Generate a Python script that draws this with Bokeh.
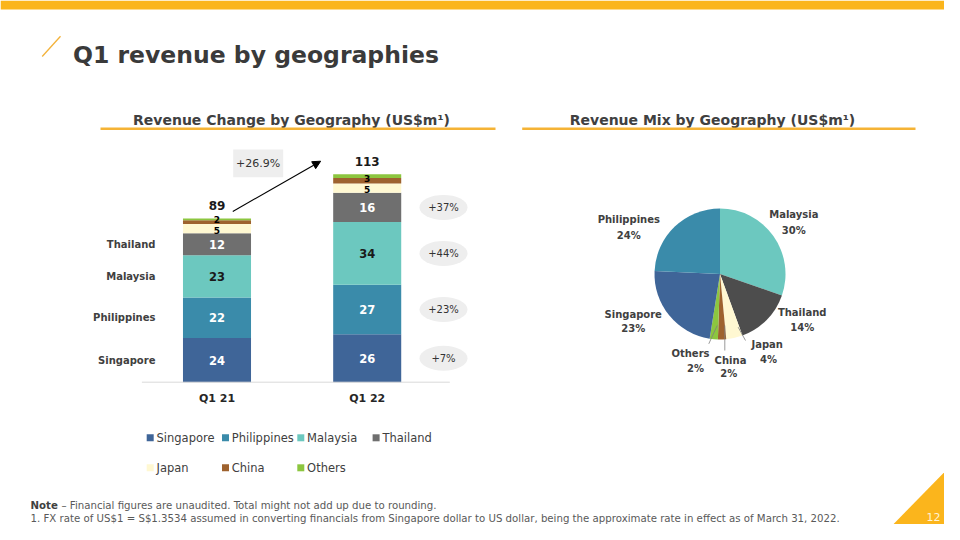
import numpy as np
from bokeh.plotting import figure
from bokeh.models import Range1d, ColumnDataSource, Arrow, NormalHead
from bokeh.core.properties import value
from bokeh.embed import file_html
from bokeh.resources import INLINE

# ---------------- data ----------------
periods = ["Q1 21", "Q1 22"]
geographies = ["Singapore", "Philippines", "Malaysia", "Thailand", "Japan", "China", "Others"]
singapore = [24, 26]
philippines = [22, 27]
malaysia = [23, 34]
thailand = [12, 16]
japan = [5, 5]
china = [2, 3]
others = [1, 2]
totals = [89, 113]
growth_labels = ["+7%", "+23%", "+44%", "+37%"]      # Singapore, Philippines, Malaysia, Thailand
total_growth_label = "+26.9%"
mix_share = [23, 24, 30, 14, 4, 2, 2]                # Q1 22 revenue mix, %

title = "Q1 revenue by geographies"
left_title = "Revenue Change by Geography (US$m\u00b9)"
right_title = "Revenue Mix by Geography (US$m\u00b9)"
note_bold = "Note"
note_rest = "\u2013 Financial figures are unaudited. Total might not add up due to rounding."
footnote = ("1. FX rate of US$1 = S$1.3534 assumed in converting financials from Singapore dollar "
            "to US dollar, being the approximate rate in effect as of March 31, 2022.")
page_no = "12"

# ---------------- styles ----------------
FONT = "DejaVu Sans"
YELLOW = "#FBB51C"
DARK = "#404040"
bar_colors = ["#3F6598", "#3A8BAA", "#6CC8BF", "#6F6F6F", "#FFF8D2", "#9E622E", "#8CC63F"]
pie_colors = ["#3F6598", "#3A8BAA", "#6CC8BF", "#4D4D4D", "#FFF8D2", "#9E622E", "#8CC63F"]
seg_label_colors = ["white", "white", "#1A1A1A", "white", "black", "black"]

W, H = 944, 524


def S(y):
    """slide pixel row -> page data y (y up)"""
    return 540 - y


p = figure(width=W, height=H, x_range=Range1d(0, W), y_range=Range1d(S(H), S(0)),
           output_backend="svg", toolbar_location=None,
           x_axis_location=None, y_axis_location=None, min_border=0)
p.outline_line_color = None
p.grid.visible = False
p.background_fill_color = "white"
p.border_fill_color = "white"


def txt(xs, ys, texts, size, color=DARK, bold=False, align="center", baseline="middle",
        **kw):
    p.text(x=list(xs), y=list(ys), text=list(texts), text_font=value(FONT),
           text_font_size=f"{size}px", text_font_style="bold" if bold else "normal",
           text_color=color, text_align=align, text_baseline=baseline, **kw)


# ---------------- slide decoration ----------------
p.quad(left=[0], right=[960], top=[S(0)], bottom=[S(9)], fill_color=YELLOW, line_color=None)
p.patch(x=[960, 960, 877], y=[S(455), S(540), S(540)], fill_color=YELLOW, line_color=None)
p.segment(x0=[41.7], y0=[S(56)], x1=[60], y1=[S(35.7)], line_color="#F3B23A", line_width=1.3)
txt([72.5], [S(54.3)], [title], 23.5, color="#3A3A3A", bold=True, align="left",
    baseline="alphabetic")

txt([291], [S(119)], [left_title], 14, color=DARK, bold=True, baseline="alphabetic")
txt([712], [S(119)], [right_title], 14, color=DARK, bold=True, baseline="alphabetic")
p.segment(x0=[100, 521.7], y0=[S(128.3)] * 2, x1=[495, 915], y1=[S(128.3)] * 2,
          line_color="#F5B335", line_width=2.6)

txt([30], [S(505)], [note_bold], 10.2, color="#404040", bold=True, align="left")
txt([61], [S(505)], [note_rest], 10.2, color="#595959", align="left")
txt([30], [S(518)], [footnote], 10.2, color="#595959", align="left")
txt([933], [S(516)], [page_no], 11, color="#FFF3D6")

# ---------------- left: stacked bars ----------------
X0, DX = 216.5, 150.2    # slide px of first period centre, px between periods
Y0, DY = 381.7, 1.84     # slide px of zero, px per US$m
p.extra_x_ranges["cat"] = Range1d((0 - X0) / DX, (W - X0) / DX)
p.extra_y_ranges["val"] = Range1d((S(H) - S(Y0)) / DY, (S(0) - S(Y0)) / DY)
R = dict(x_range_name="cat", y_range_name="val")

series = [singapore, philippines, malaysia, thailand, japan, china, others]
idx = list(range(len(periods)))
src = ColumnDataSource(dict(x=idx, **{g: s for g, s in zip(geographies, series)}))
p.vbar_stack(geographies, x="x", width=0.453, source=src, fill_color=bar_colors,
             line_color=None, **R)

vals = np.array(series, dtype=float)
tops = np.cumsum(vals, axis=0)
mids = tops - vals / 2

# axis line + category labels
p.segment(x0=[-0.5], y0=[0], x1=[1.55], y1=[0], line_color="#D9D9D9", line_width=1, **R)
txt(idx, [0, 0], periods, 11, color="#262626", bold=True, y_offset=16.6, **R)

# segment value labels
for k in range(6):
    big = k < 4
    off = 0 if big else (1.8 if k == 4 else -2.2)
    txt(idx, mids[k], [str(int(v)) for v in vals[k]], 11.5 if big else 9,
        color=seg_label_colors[k], bold=True, y_offset=off, **R)

# totals
txt(idx, totals, [str(t) for t in totals], 12, color="#1A1A1A", bold=True,
    y_offset=-12.8, **R)

# geography labels on the left of first bar
txt([-0.41] * 4, mids[:4, 0], geographies[:4], 10, color=DARK, bold=True, align="right", **R)

# growth bubbles
p.ellipse(x=[1.508] * 4, y=list(mids[:4, 1]), width=48, height=25, width_units="screen",
          height_units="screen", fill_color="#EEEEEE", line_color=None, **R)
txt([1.508] * 4, mids[:4, 1], growth_labels, 10, color="#333333", **R)

# total growth box + arrow
p.quad(left=[232.7], right=[282.7], top=[S(149)], bottom=[S(176.7)], fill_color="#EEEEEE",
       line_color=None)
txt([257.7], [S(162.8)], [total_growth_label], 11, color="#333333")
p.add_layout(Arrow(end=NormalHead(size=8, fill_color="black", line_color="black"),
                   x_start=0.105, y_start=92.8, x_end=0.69, y_end=120.1,
                   line_color="black", line_width=1.1, **R))

# legend (manual grid, 4 per row)
for i, (g, c) in enumerate(zip(geographies, bar_colors)):
    row, col = divmod(i, 4)
    p.scatter(x=[149.7 + 75.3 * col], y=[S(437.3 + 30 * row)], marker="square", size=7,
              fill_color=c, line_color=None)
    txt([156 + 75.3 * col], [S(437.3 + 30 * row)], [g], 11.5, color=DARK, align="left")

# ---------------- right: pie ----------------
share = np.array(mix_share, dtype=float)
frac = share / share.sum()
order = np.roll(np.arange(len(geographies)), -2)          # clockwise from 12 o'clock: Malaysia first
cum = np.concatenate([[0.0], np.cumsum(frac[order])])
pie_src = ColumnDataSource(dict(
    start=np.pi / 2 - 2 * np.pi * cum[1:],
    end=np.pi / 2 - 2 * np.pi * cum[:-1],
    color=[pie_colors[i] for i in order],
))
CX, CY, RAD = 719.5, S(273.5), 65.5
p.wedge(x=CX, y=CY, radius=RAD, radius_units="screen", start_angle="start", end_angle="end",
        direction="anticlock", fill_color="color", line_color=None, source=pie_src)

# label layout (slide px): name centre, pct centre
label_pos = {
    "Singapore": ((632.7, 314.0), (632.7, 328.3)),
    "Philippines": ((628.3, 219.3), (628.3, 235.0)),
    "Malaysia": ((793.3, 214.3), (793.3, 230.0)),
    "Thailand": ((801.7, 311.7), (801.7, 326.7)),
    "Japan": ((766.7, 344.3), (768.0, 359.3)),
    "China": ((730.0, 360.0), (728.3, 373.3)),
    "Others": ((690.0, 353.3), (695.0, 368.3)),
}
for g, s in zip(geographies, mix_share):
    (nx, ny), (qx, qy) = label_pos[g]
    txt([nx], [S(ny)], [g], 10, color=DARK, bold=True)
    txt([qx], [S(qy)], [f"{s}%"], 10, color=DARK, bold=True)

p.segment(x0=[745, 724.3, 716.7], y0=[S(340), S(325), S(325)],
          x1=[737.7, 724.3, 708.3], y1=[S(326.7), S(350), S(343.3)],
          line_color="#7F7F7F", line_width=0.8)

open("out.html", "w").write(file_html(p, INLINE))
